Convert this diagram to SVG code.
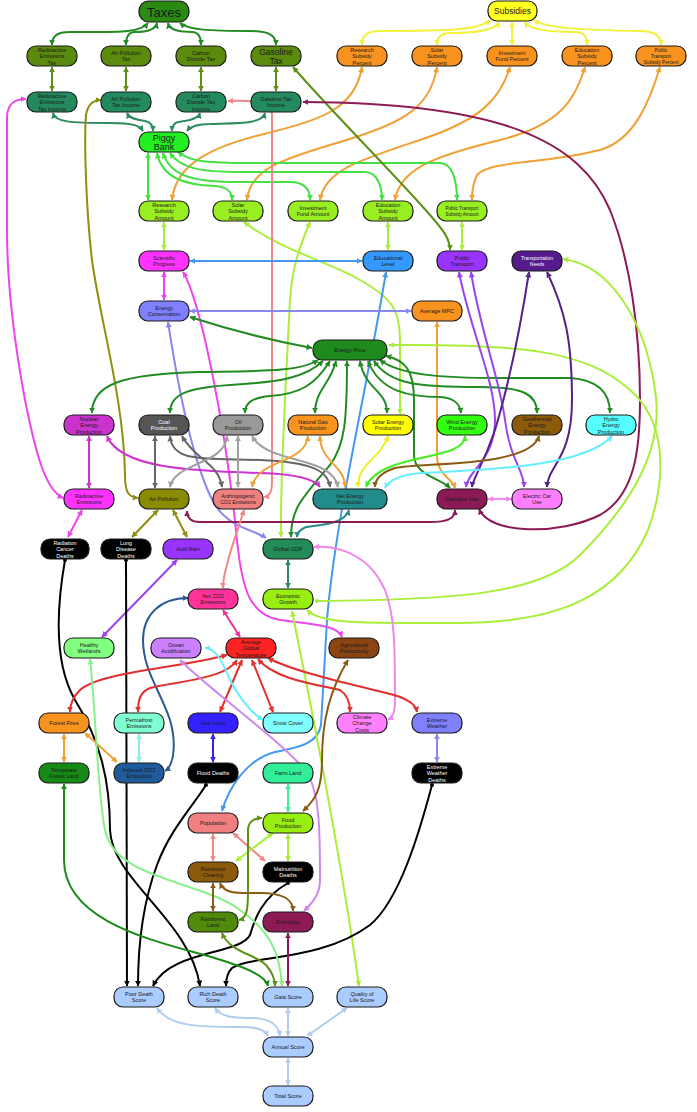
<svg xmlns="http://www.w3.org/2000/svg" width="697" height="1112" viewBox="0 0 697 1112">
<style>
.n rect{stroke:#1a1a1a;stroke-width:1.2}
.n text{font-family:"Liberation Sans",Arial,sans-serif;font-size:5.5px;text-anchor:middle;fill:#1a1a1a}
.n text.w{fill:#fff}
#edges path{fill:none;stroke-width:2}
.dg{stroke:#228B22;marker-start:url(#m-dg);marker-end:url(#m-dg)}
.ol{stroke:#5E8F16;marker-start:url(#m-ol);marker-end:url(#m-ol)}
.sg{stroke:#2E8B60;marker-start:url(#m-sg);marker-end:url(#m-sg)}
.yl{stroke:#F2F23A;marker-start:url(#m-yl);marker-end:url(#m-yl)}
.or{stroke:#F0A035;marker-start:url(#m-or);marker-end:url(#m-or)}
.bg{stroke:#44E044;marker-start:url(#m-bg);marker-end:url(#m-bg)}
.ch{stroke:#A8EE3A;marker-start:url(#m-ch);marker-end:url(#m-ch)}
.mg{stroke:#EE44EE;marker-start:url(#m-mg);marker-end:url(#m-mg)}
.mg2{stroke:#CC33CC;marker-start:url(#m-mg2);marker-end:url(#m-mg2)}
.bl{stroke:#4499EE;marker-start:url(#m-bl);marker-end:url(#m-bl)}
.pw{stroke:#8888EE;marker-start:url(#m-pw);marker-end:url(#m-pw)}
.pu{stroke:#9944EE;marker-start:url(#m-pu);marker-end:url(#m-pu)}
.dp{stroke:#552288;marker-start:url(#m-dp);marker-end:url(#m-dp)}
.mr{stroke:#8B1A55;marker-start:url(#m-mr);marker-end:url(#m-mr)}
.sa{stroke:#F08888;marker-start:url(#m-sa);marker-end:url(#m-sa)}
.g1{stroke:#666666;marker-start:url(#m-g1);marker-end:url(#m-g1)}
.g2{stroke:#A0A0A0;marker-start:url(#m-g2);marker-end:url(#m-g2)}
.br{stroke:#8B5A14;marker-start:url(#m-br);marker-end:url(#m-br)}
.cy{stroke:#66EEFF;marker-start:url(#m-cy);marker-end:url(#m-cy)}
.vi{stroke:#EE88EE;marker-start:url(#m-vi);marker-end:url(#m-vi)}
.ay{stroke:#8E8E10;marker-start:url(#m-ay);marker-end:url(#m-ay)}
.tl{stroke:#2A8A8A;marker-start:url(#m-tl);marker-end:url(#m-tl)}
.bk{stroke:#000;marker-start:url(#d-bk);marker-end:url(#m-bk)}
.pk{stroke:#EE3399;marker-start:url(#m-pk);marker-end:url(#m-pk)}
.rd{stroke:#E03030;marker-start:url(#m-rd);marker-end:url(#m-rd)}
.lv{stroke:#CC88EE;marker-start:url(#m-lv);marker-end:url(#m-lv)}
.db{stroke:#2A5A90;marker-start:url(#m-db);marker-end:url(#m-db)}
.aq{stroke:#88EEDD;marker-start:url(#m-aq);marker-end:url(#m-aq)}
.sb{stroke:#3322EE;marker-start:url(#m-sb);marker-end:url(#m-sb)}
.fl{stroke:#44EE99;marker-start:url(#m-fl);marker-end:url(#m-fl)}
.lg{stroke:#88F088;marker-start:url(#m-lg);marker-end:url(#m-lg)}
.fg{stroke:#1A8A1A;marker-start:url(#m-fg);marker-end:url(#m-fg)}
.lb{stroke:#B0CCEE;marker-start:url(#m-lb);marker-end:url(#m-lb)}
.wg{stroke:#44EE22;marker-start:url(#m-wg);marker-end:url(#m-wg)}
.yl2{stroke:#EEEE22;marker-start:url(#m-yl2);marker-end:url(#m-yl2)}
.chd{stroke:#A8EE3A;marker-start:url(#d-ch);marker-end:url(#m-ch)}
</style>
<defs>
<marker id="m-dg" viewBox="0 0 10 10" refX="9" refY="5" markerWidth="6" markerHeight="6" markerUnits="userSpaceOnUse" orient="auto-start-reverse"><path d="M0,0L10,5L0,10z" fill="#228B22"/></marker>
<marker id="m-ol" viewBox="0 0 10 10" refX="9" refY="5" markerWidth="6" markerHeight="6" markerUnits="userSpaceOnUse" orient="auto-start-reverse"><path d="M0,0L10,5L0,10z" fill="#5E8F16"/></marker>
<marker id="m-sg" viewBox="0 0 10 10" refX="9" refY="5" markerWidth="6" markerHeight="6" markerUnits="userSpaceOnUse" orient="auto-start-reverse"><path d="M0,0L10,5L0,10z" fill="#2E8B60"/></marker>
<marker id="m-yl" viewBox="0 0 10 10" refX="9" refY="5" markerWidth="6" markerHeight="6" markerUnits="userSpaceOnUse" orient="auto-start-reverse"><path d="M0,0L10,5L0,10z" fill="#F2F23A"/></marker>
<marker id="m-or" viewBox="0 0 10 10" refX="9" refY="5" markerWidth="6" markerHeight="6" markerUnits="userSpaceOnUse" orient="auto-start-reverse"><path d="M0,0L10,5L0,10z" fill="#F0A035"/></marker>
<marker id="m-bg" viewBox="0 0 10 10" refX="9" refY="5" markerWidth="6" markerHeight="6" markerUnits="userSpaceOnUse" orient="auto-start-reverse"><path d="M0,0L10,5L0,10z" fill="#44E044"/></marker>
<marker id="m-ch" viewBox="0 0 10 10" refX="9" refY="5" markerWidth="6" markerHeight="6" markerUnits="userSpaceOnUse" orient="auto-start-reverse"><path d="M0,0L10,5L0,10z" fill="#A8EE3A"/></marker>
<marker id="m-mg" viewBox="0 0 10 10" refX="9" refY="5" markerWidth="6" markerHeight="6" markerUnits="userSpaceOnUse" orient="auto-start-reverse"><path d="M0,0L10,5L0,10z" fill="#EE44EE"/></marker>
<marker id="m-mg2" viewBox="0 0 10 10" refX="9" refY="5" markerWidth="6" markerHeight="6" markerUnits="userSpaceOnUse" orient="auto-start-reverse"><path d="M0,0L10,5L0,10z" fill="#CC33CC"/></marker>
<marker id="m-bl" viewBox="0 0 10 10" refX="9" refY="5" markerWidth="6" markerHeight="6" markerUnits="userSpaceOnUse" orient="auto-start-reverse"><path d="M0,0L10,5L0,10z" fill="#4499EE"/></marker>
<marker id="m-pw" viewBox="0 0 10 10" refX="9" refY="5" markerWidth="6" markerHeight="6" markerUnits="userSpaceOnUse" orient="auto-start-reverse"><path d="M0,0L10,5L0,10z" fill="#8888EE"/></marker>
<marker id="m-pu" viewBox="0 0 10 10" refX="9" refY="5" markerWidth="6" markerHeight="6" markerUnits="userSpaceOnUse" orient="auto-start-reverse"><path d="M0,0L10,5L0,10z" fill="#9944EE"/></marker>
<marker id="m-dp" viewBox="0 0 10 10" refX="9" refY="5" markerWidth="6" markerHeight="6" markerUnits="userSpaceOnUse" orient="auto-start-reverse"><path d="M0,0L10,5L0,10z" fill="#552288"/></marker>
<marker id="m-mr" viewBox="0 0 10 10" refX="9" refY="5" markerWidth="6" markerHeight="6" markerUnits="userSpaceOnUse" orient="auto-start-reverse"><path d="M0,0L10,5L0,10z" fill="#8B1A55"/></marker>
<marker id="m-sa" viewBox="0 0 10 10" refX="9" refY="5" markerWidth="6" markerHeight="6" markerUnits="userSpaceOnUse" orient="auto-start-reverse"><path d="M0,0L10,5L0,10z" fill="#F08888"/></marker>
<marker id="m-g1" viewBox="0 0 10 10" refX="9" refY="5" markerWidth="6" markerHeight="6" markerUnits="userSpaceOnUse" orient="auto-start-reverse"><path d="M0,0L10,5L0,10z" fill="#666666"/></marker>
<marker id="m-g2" viewBox="0 0 10 10" refX="9" refY="5" markerWidth="6" markerHeight="6" markerUnits="userSpaceOnUse" orient="auto-start-reverse"><path d="M0,0L10,5L0,10z" fill="#A0A0A0"/></marker>
<marker id="m-br" viewBox="0 0 10 10" refX="9" refY="5" markerWidth="6" markerHeight="6" markerUnits="userSpaceOnUse" orient="auto-start-reverse"><path d="M0,0L10,5L0,10z" fill="#8B5A14"/></marker>
<marker id="m-cy" viewBox="0 0 10 10" refX="9" refY="5" markerWidth="6" markerHeight="6" markerUnits="userSpaceOnUse" orient="auto-start-reverse"><path d="M0,0L10,5L0,10z" fill="#66EEFF"/></marker>
<marker id="m-vi" viewBox="0 0 10 10" refX="9" refY="5" markerWidth="6" markerHeight="6" markerUnits="userSpaceOnUse" orient="auto-start-reverse"><path d="M0,0L10,5L0,10z" fill="#EE88EE"/></marker>
<marker id="m-ay" viewBox="0 0 10 10" refX="9" refY="5" markerWidth="6" markerHeight="6" markerUnits="userSpaceOnUse" orient="auto-start-reverse"><path d="M0,0L10,5L0,10z" fill="#8E8E10"/></marker>
<marker id="m-tl" viewBox="0 0 10 10" refX="9" refY="5" markerWidth="6" markerHeight="6" markerUnits="userSpaceOnUse" orient="auto-start-reverse"><path d="M0,0L10,5L0,10z" fill="#2A8A8A"/></marker>
<marker id="m-bk" viewBox="0 0 10 10" refX="9" refY="5" markerWidth="6" markerHeight="6" markerUnits="userSpaceOnUse" orient="auto-start-reverse"><path d="M0,0L10,5L0,10z" fill="#000"/></marker>
<marker id="d-bk" viewBox="0 0 10 10" refX="5" refY="5" markerWidth="4" markerHeight="4" markerUnits="userSpaceOnUse"><circle cx="5" cy="5" r="5" fill="#000"/></marker>
<marker id="d-ch" viewBox="0 0 10 10" refX="5" refY="5" markerWidth="4" markerHeight="4" markerUnits="userSpaceOnUse"><circle cx="5" cy="5" r="5" fill="#A8EE3A"/></marker>
<marker id="m-pk" viewBox="0 0 10 10" refX="9" refY="5" markerWidth="6" markerHeight="6" markerUnits="userSpaceOnUse" orient="auto-start-reverse"><path d="M0,0L10,5L0,10z" fill="#EE3399"/></marker>
<marker id="m-rd" viewBox="0 0 10 10" refX="9" refY="5" markerWidth="6" markerHeight="6" markerUnits="userSpaceOnUse" orient="auto-start-reverse"><path d="M0,0L10,5L0,10z" fill="#E03030"/></marker>
<marker id="m-lv" viewBox="0 0 10 10" refX="9" refY="5" markerWidth="6" markerHeight="6" markerUnits="userSpaceOnUse" orient="auto-start-reverse"><path d="M0,0L10,5L0,10z" fill="#CC88EE"/></marker>
<marker id="m-db" viewBox="0 0 10 10" refX="9" refY="5" markerWidth="6" markerHeight="6" markerUnits="userSpaceOnUse" orient="auto-start-reverse"><path d="M0,0L10,5L0,10z" fill="#2A5A90"/></marker>
<marker id="m-aq" viewBox="0 0 10 10" refX="9" refY="5" markerWidth="6" markerHeight="6" markerUnits="userSpaceOnUse" orient="auto-start-reverse"><path d="M0,0L10,5L0,10z" fill="#88EEDD"/></marker>
<marker id="m-sb" viewBox="0 0 10 10" refX="9" refY="5" markerWidth="6" markerHeight="6" markerUnits="userSpaceOnUse" orient="auto-start-reverse"><path d="M0,0L10,5L0,10z" fill="#3322EE"/></marker>
<marker id="m-fl" viewBox="0 0 10 10" refX="9" refY="5" markerWidth="6" markerHeight="6" markerUnits="userSpaceOnUse" orient="auto-start-reverse"><path d="M0,0L10,5L0,10z" fill="#44EE99"/></marker>
<marker id="m-lg" viewBox="0 0 10 10" refX="9" refY="5" markerWidth="6" markerHeight="6" markerUnits="userSpaceOnUse" orient="auto-start-reverse"><path d="M0,0L10,5L0,10z" fill="#88F088"/></marker>
<marker id="m-fg" viewBox="0 0 10 10" refX="9" refY="5" markerWidth="6" markerHeight="6" markerUnits="userSpaceOnUse" orient="auto-start-reverse"><path d="M0,0L10,5L0,10z" fill="#1A8A1A"/></marker>
<marker id="m-lb" viewBox="0 0 10 10" refX="9" refY="5" markerWidth="6" markerHeight="6" markerUnits="userSpaceOnUse" orient="auto-start-reverse"><path d="M0,0L10,5L0,10z" fill="#B0CCEE"/></marker>
<marker id="m-wg" viewBox="0 0 10 10" refX="9" refY="5" markerWidth="6" markerHeight="6" markerUnits="userSpaceOnUse" orient="auto-start-reverse"><path d="M0,0L10,5L0,10z" fill="#44EE22"/></marker>
<marker id="m-yl2" viewBox="0 0 10 10" refX="9" refY="5" markerWidth="6" markerHeight="6" markerUnits="userSpaceOnUse" orient="auto-start-reverse"><path d="M0,0L10,5L0,10z" fill="#EEEE22"/></marker>
</defs>
<rect width="697" height="1112" fill="#fff"/>
<g id="edges">
<path class="dg" d="M148,23 C140,33 120,32 70,32 C57,32 52,36 52,45"/>
<path class="dg" d="M157,23 C155,32 140,32 135,32 C128,32 126,37 126,45"/>
<path class="dg" d="M168,23 C170,32 185,32 192,32 C199,32 201,37 201,45"/>
<path class="dg" d="M180,23 C188,30 210,31 250,31 C270,31 276,36 276,45"/>
<path class="yl" d="M490,20 C480,30 450,31 380,31 C366,31 362,36 362,45"/>
<path class="yl" d="M499,22 C495,31 470,33 450,33 C440,33 437,38 437,45"/>
<path class="yl" d="M512,22 L512,45"/>
<path class="yl" d="M525,22 C530,31 560,32 575,32 C585,32 587,37 587,45"/>
<path class="yl" d="M534,20 C545,28 580,30 640,31 C655,31 661,36 661,45"/>
<path class="ol" d="M52,67 L52,91"/>
<path class="ol" d="M126,67 L126,91"/>
<path class="ol" d="M201,67 L201,91"/>
<path class="ol" d="M276,67 L276,91"/>
<path class="sg" d="M53,113 C55,122 70,123 110,123 C135,123 140,126 143,131"/>
<path class="sg" d="M127,113 C130,120 140,120 145,121 C150,122 153,125 153,131"/>
<path class="sg" d="M200,113 C198,120 185,121 178,122 C174,123 172,126 172,131"/>
<path class="sg" d="M265,113 C262,124 240,123 210,124 C195,124 190,127 187,131"/>
<path class="or" d="M362,67 C355,110 320,120 260,135 C200,150 175,170 172,200"/>
<path class="or" d="M437,67 C430,110 400,125 330,145 C280,160 250,170 247,200"/>
<path class="or" d="M510,67 C500,100 480,120 420,140 C360,160 325,170 320,200"/>
<path class="or" d="M585,67 C575,100 560,125 500,140 C430,157 400,170 395,200"/>
<path class="or" d="M660,67 C650,100 635,140 600,150 C540,165 490,160 477,175 C472,185 472,195 472,200"/>
<path class="bg" d="M148,153 L148,200"/>
<path class="bg" d="M157,153 C162,178 185,185 215,186 C228,187 232,192 232,200"/>
<path class="bg" d="M163,153 C170,175 190,181 230,182 L290,182 C305,182 310,190 310,200"/>
<path class="bg" d="M170,153 C180,168 200,172 240,172 L365,172 C378,172 382,188 382,200"/>
<path class="bg" d="M178,152 C190,162 210,163 250,163 L440,163 C452,163 457,180 457,200"/>
<path class="ch" d="M164,222 L164,250"/>
<path class="ch" d="M388,222 L388,250"/>
<path class="ch" d="M462,222 L462,250"/>
<path class="ch" d="M310,222 C298,250 292,270 290,300 C285,400 280,480 281,537"/>
<path class="ch" d="M244,222 C280,250 330,262 360,280 C392,298 400,310 400,340 L400,414"/>
<path class="ol" d="M293,67 C330,110 400,180 430,215 C445,232 450,240 450,250"/>
<path class="mr" d="M479,509 C490,535 560,535 600,515 C635,495 640,450 640,400 C640,330 630,260 610,210 C580,140 500,103 303,102"/>
<path class="sa" d="M264,497 C271,496 272,490 272,480 L272,115 C272,104 265,100 228,101"/>
<path class="mg" d="M63,498 C45,490 35,450 25,400 C12,330 7,280 7,230 L7,118 C7,104 14,99 26,99"/>
<path class="ay" d="M138,498 C128,497 125,492 125,475 C124,400 100,320 92,260 C86,210 84,140 86,115 C88,103 94,100 101,100"/>
<path class="mg" d="M164,272 L164,300"/>
<path class="bl" d="M362,261 L190,261"/>
<path class="bl" d="M386,272 C365,400 335,520 327,620 L321,725 C318,745 295,748 275,752 C245,760 228,790 222,811"/>
<path class="mg" d="M183,272 C200,300 225,420 237,540 C242,590 250,615 280,620 C320,625 338,626 342,637"/>
<path class="pw" d="M190,311 L411,311"/>
<path class="pw" d="M168,322 C180,400 195,470 215,505 C230,528 255,530 266,538"/>
<path class="dg" d="M190,317 C230,330 280,342 312,348"/>
<path class="or" d="M437,322 L437,455 C437,475 452,478 455,488"/>
<path class="dg" d="M318,360 C300,372 260,371 200,372 C120,374 92,385 92,413"/>
<path class="dg" d="M323,361 C305,378 280,382 230,385 C185,388 170,395 170,413"/>
<path class="dg" d="M330,361 C315,385 300,394 270,396 C250,398 245,404 245,413"/>
<path class="dg" d="M336,361 C330,385 315,390 315,413"/>
<path class="dg" d="M347,361 C347,420 345,445 330,465 C300,500 291,510 291,537"/>
<path class="dg" d="M360,361 C365,390 387,390 387,413"/>
<path class="dg" d="M368,361 C380,392 410,397 440,397 C455,398 460,404 461,413"/>
<path class="dg" d="M374,361 C390,385 420,387 480,387 C525,387 537,395 537,413"/>
<path class="dg" d="M380,360 C400,375 440,378 500,378 L570,378 C600,380 610,395 610,413"/>
<path class="dg" d="M386,356 C405,360 414,370 414,400 L414,455 C414,475 440,478 450,488"/>
<path class="ch" d="M307,610 C320,624 360,623 457,623 C560,623 620,595 648,530 C668,475 665,420 630,390 C585,350 520,344 389,345"/>
<path class="chd" d="M317,601 C450,600 540,595 580,555 C630,505 665,450 655,390 C645,320 610,265 563,259"/>
<path class="pu" d="M459,272 C470,330 495,380 495,420 C495,460 468,470 466,487"/>
<path class="pu" d="M471,272 C480,330 500,380 505,420 C510,460 524,470 524,487"/>
<path class="dp" d="M529,272 C520,330 510,380 495,430 C482,468 473,478 472,487"/>
<path class="dp" d="M547,272 C565,310 572,340 572,400 C572,460 548,465 547,487"/>
<path class="vi" d="M488,499 L511,499"/>
<path class="mg2" d="M89,436 L89,488"/>
<path class="mg2" d="M107,436 C120,468 190,471 260,473 C300,474 315,480 320,487"/>
<path class="g1" d="M155,436 L155,488"/>
<path class="g1" d="M170,436 C172,462 200,458 260,460 C310,462 328,470 330,487"/>
<path class="g1" d="M182,436 C195,460 218,462 222,487"/>
<path class="g2" d="M227,436 C225,465 175,462 170,487"/>
<path class="g2" d="M238,436 L238,487"/>
<path class="g2" d="M252,436 C268,465 332,455 338,487"/>
<path class="or" d="M308,436 C305,465 258,458 252,487"/>
<path class="or" d="M320,436 C320,462 345,465 345,487"/>
<path class="yl2" d="M388,436 C380,460 358,462 358,487"/>
<path class="wg" d="M465,436 C465,462 380,452 366,487"/>
<path class="br" d="M539,436 C530,468 420,462 395,468 C380,473 375,480 375,487"/>
<path class="cy" d="M612,436 C580,472 450,470 412,474 C395,477 388,482 385,488"/>
<path class="tl" d="M349,510 C345,524 320,525 306,527 C299,530 297,533 297,537"/>
<path class="mr" d="M455,510 C455,519 447,522 430,522 L200,522 C191,522 187,518 187,511"/>
<path class="vi" d="M388,720 C393,717 395,712 395,700 C395,650 395,615 385,590 C372,560 345,545 314,547"/>
<path class="sa" d="M244,510 C238,530 230,550 227,565 C224,575 223,582 223,588"/>
<path class="sg" d="M288,560 L288,588"/>
<path class="ch" d="M292,611 C310,700 340,850 359,986"/>
<path class="ay" d="M158,510 L132,537"/>
<path class="ay" d="M173,510 L187,537"/>
<path class="mg" d="M82,510 L68,537"/>
<path class="pu" d="M177,560 L102,637"/>
<path class="bk" d="M65,560 C58,600 52,660 75,700 C100,740 110,780 110,830 C112,880 190,920 200,986"/>
<path class="bk" d="M126,560 L127,986"/>
<path class="bk" d="M206,785 C190,810 170,830 157,865 C142,905 138,950 138,986"/>
<path class="bk" d="M288,883 C262,898 255,918 250,935 C240,955 170,950 153,986"/>
<path class="bk" d="M432,785 C420,830 400,900 370,925 C320,962 250,955 232,968 C227,973 226,980 226,986"/>
<path class="pk" d="M223,610 L240,637"/>
<path class="db" d="M165,771 C175,765 176,740 170,720 C160,690 143,670 143,640 C143,615 160,598 188,598"/>
<path class="rd" d="M227,655 C180,668 100,672 80,690 C72,698 70,705 70,712"/>
<path class="rd" d="M237,660 C225,680 170,682 150,688 C140,692 138,700 138,712"/>
<path class="rd" d="M242,660 L220,712"/>
<path class="rd" d="M252,660 L273,712"/>
<path class="rd" d="M258,659 C275,680 320,685 340,690 C348,695 350,703 350,712"/>
<path class="rd" d="M268,658 C300,675 380,690 400,697 C412,702 416,706 417,712"/>
<path class="cy" d="M263,720 C250,712 238,695 230,680 C222,660 215,648 205,648"/>
<path class="lv" d="M180,660 C210,690 280,740 305,770 C320,790 320,830 320,880 C320,895 312,903 304,911"/>
<path class="br" d="M348,660 C330,690 322,720 322,760 C322,790 315,800 303,811"/>
<path class="fl" d="M288,784 L288,812"/>
<path class="pw" d="M437,734 L437,762"/>
<path class="sb" d="M213,734 L213,762"/>
<path class="or" d="M64,734 L64,762"/>
<path class="or" d="M85,733 L117,762"/>
<path class="aq" d="M139,734 L139,762"/>
<path class="fg" d="M64,784 L64,860 C64,930 180,945 230,963 C255,971 266,978 268,986"/>
<path class="lg" d="M90,659 C95,700 98,800 105,830 C115,880 200,880 240,910 C268,930 280,950 282,986"/>
<path class="ol" d="M222,933 C230,953 258,955 266,965 C272,972 275,978 275,986"/>
<path class="mr" d="M288,933 L288,986"/>
<path class="sa" d="M213,834 L213,861"/>
<path class="sa" d="M233,833 L265,861"/>
<path class="ch" d="M273,833 L236,861"/>
<path class="ch" d="M288,834 L288,861"/>
<path class="ol" d="M239,920 C247,918 248,910 248,890 L248,830 C248,822 254,818 262,818"/>
<path class="br" d="M213,883 L213,911"/>
<path class="br" d="M220,883 C225,895 240,893 260,893 C285,893 293,900 293,911"/>
<path class="lb" d="M157,1008 C170,1027 200,1027 240,1027 C258,1027 265,1030 268,1036"/>
<path class="lb" d="M215,1008 C222,1018 235,1018 255,1018 C272,1019 279,1027 280,1036"/>
<path class="lb" d="M288,1008 L288,1036"/>
<path class="lb" d="M347,1008 L307,1036"/>
<path class="lb" d="M288,1058 L288,1085"/>
</g>
<g id="nodes">
<g id="taxes" class="n"><rect x="139" y="1" width="50" height="21" rx="10" fill="#2A8A12"/><text x="164" y="16.5" style="font-size:13px">Taxes</text></g>
<g id="subsidies" class="n"><rect x="488" y="1" width="49" height="20" rx="9" fill="#FFFF22"/><text x="512.5" y="14" style="font-size:8.5px">Subsidies</text></g>
<g id="radtax" class="n"><rect x="27" y="46" width="50" height="20" rx="9" fill="#5A8A0E"/><text><tspan x="52" y="51.5">Radioactive</tspan><tspan x="52" y="58">Emissions</tspan><tspan x="52" y="64.5">Tax</tspan></text></g>
<g id="airtax" class="n"><rect x="101" y="46" width="50" height="20" rx="9" fill="#5A8A0E"/><text><tspan x="126" y="54.8">Air Pollution</tspan><tspan x="126" y="61.3">Tax</tspan></text></g>
<g id="co2tax" class="n"><rect x="176" y="46" width="50" height="20" rx="9" fill="#5A8A0E"/><text><tspan x="201" y="54.8">Carbon</tspan><tspan x="201" y="61.3">Dioxide Tax</tspan></text></g>
<g id="gastax" class="n"><rect x="251" y="46" width="50" height="20" rx="9" fill="#5A8A0E"/><text style="font-size:8.5px"><tspan x="276" y="54.5">Gasoline</tspan><tspan x="276" y="63.5">Tax</tspan></text></g>
<g id="ressubpct" class="n"><rect x="337" y="46" width="50" height="20" rx="9" fill="#F7931E"/><text><tspan x="362" y="51.5">Research</tspan><tspan x="362" y="58">Subsidy</tspan><tspan x="362" y="64.5">Percent</tspan></text></g>
<g id="solsubpct" class="n"><rect x="412" y="46" width="50" height="20" rx="9" fill="#F7931E"/><text><tspan x="437" y="51.5">Solar</tspan><tspan x="437" y="58">Subsidy</tspan><tspan x="437" y="64.5">Percent</tspan></text></g>
<g id="invfundpct" class="n"><rect x="487" y="46" width="50" height="20" rx="9" fill="#F7931E"/><text><tspan x="512" y="54.8">Investment</tspan><tspan x="512" y="61.3">Fund Percent</tspan></text></g>
<g id="edusubpct" class="n"><rect x="562" y="46" width="50" height="20" rx="9" fill="#F7931E"/><text><tspan x="587" y="51.5">Education</tspan><tspan x="587" y="58">Subsidy</tspan><tspan x="587" y="64.5">Percent</tspan></text></g>
<g id="ptsubpct" class="n"><rect x="636" y="46" width="50" height="20" rx="9" fill="#F7931E"/><text style="font-size:4.8px"><tspan x="661" y="52">Public</tspan><tspan x="661" y="58">Transport</tspan><tspan x="661" y="64">Subsidy Percent</tspan></text></g>
<g id="radinc" class="n"><rect x="27" y="92" width="50" height="20" rx="9" fill="#238A5E"/><text><tspan x="52" y="97.5">Radioactive</tspan><tspan x="52" y="104">Emissions</tspan><tspan x="52" y="110.5">Tax Income</tspan></text></g>
<g id="airinc" class="n"><rect x="101" y="92" width="50" height="20" rx="9" fill="#238A5E"/><text><tspan x="126" y="100.8">Air Pollution</tspan><tspan x="126" y="107.3">Tax Income</tspan></text></g>
<g id="co2inc" class="n"><rect x="176" y="92" width="50" height="20" rx="9" fill="#238A5E"/><text><tspan x="201" y="97.5">Carbon</tspan><tspan x="201" y="104">Dioxide Tax</tspan><tspan x="201" y="110.5">Income</tspan></text></g>
<g id="gasinc" class="n"><rect x="251" y="92" width="50" height="20" rx="9" fill="#238A5E"/><text><tspan x="276" y="100.8">Gasoline Tax</tspan><tspan x="276" y="107.3">Income</tspan></text></g>
<g id="piggy" class="n"><rect x="139" y="132" width="50" height="20" rx="9" fill="#22EE22"/><text style="font-size:9px"><tspan x="164" y="141">Piggy</tspan><tspan x="164" y="150">Bank</tspan></text></g>
<g id="resamt" class="n"><rect x="139" y="201" width="50" height="20" rx="9" fill="#99EE22"/><text><tspan x="164" y="206.5">Research</tspan><tspan x="164" y="213">Subsidy</tspan><tspan x="164" y="219.5">Amount</tspan></text></g>
<g id="solamt" class="n"><rect x="213" y="201" width="50" height="20" rx="9" fill="#99EE22"/><text><tspan x="238" y="206.5">Solar</tspan><tspan x="238" y="213">Subsidy</tspan><tspan x="238" y="219.5">Amount</tspan></text></g>
<g id="invamt" class="n"><rect x="288" y="201" width="50" height="20" rx="9" fill="#99EE22"/><text><tspan x="313" y="209.8">Investment</tspan><tspan x="313" y="216.3">Fund Amount</tspan></text></g>
<g id="eduamt" class="n"><rect x="363" y="201" width="50" height="20" rx="9" fill="#99EE22"/><text><tspan x="388" y="206.5">Education</tspan><tspan x="388" y="213">Subsidy</tspan><tspan x="388" y="219.5">Amount</tspan></text></g>
<g id="ptamt" class="n"><rect x="437" y="201" width="50" height="20" rx="9" fill="#99EE22"/><text style="font-size:4.6px"><tspan x="462" y="209.8">Public Transport</tspan><tspan x="462" y="215.8">Subsidy Amount</tspan></text></g>
<g id="sci" class="n"><rect x="139" y="251" width="50" height="20" rx="9" fill="#FF33FF"/><text><tspan x="164" y="259.8">Scientific</tspan><tspan x="164" y="266.3">Progress</tspan></text></g>
<g id="edu" class="n"><rect x="363" y="251" width="50" height="20" rx="9" fill="#3399FF"/><text><tspan x="388" y="259.8">Educational</tspan><tspan x="388" y="266.3">Level</tspan></text></g>
<g id="pt" class="n"><rect x="437" y="251" width="50" height="20" rx="9" fill="#9933FF"/><text><tspan x="462" y="259.8">Public</tspan><tspan x="462" y="266.3">Transport</tspan></text></g>
<g id="tneeds" class="n"><rect x="512" y="251" width="50" height="20" rx="9" fill="#551A8B"/><text class="w" style="font-size:5px"><tspan x="537" y="259.8">Transportation</tspan><tspan x="537" y="266.3">Needs</tspan></text></g>
<g id="econs" class="n"><rect x="139" y="301" width="50" height="20" rx="9" fill="#8080FF"/><text><tspan x="164" y="309.8">Energy</tspan><tspan x="164" y="316.3">Conservation</tspan></text></g>
<g id="mpc" class="n"><rect x="412" y="301" width="50" height="20" rx="9" fill="#F7931E"/><text x="437" y="313">Average MPC</text></g>
<g id="eprice" class="n"><rect x="313" y="340" width="74" height="20" rx="9" fill="#1E8A1E"/><text x="350" y="352">Energy Price</text></g>
<g id="nuclear" class="n"><rect x="64" y="415" width="50" height="20" rx="9" fill="#CC33CC"/><text><tspan x="89" y="420.5">Nuclear</tspan><tspan x="89" y="427">Energy</tspan><tspan x="89" y="433.5">Production</tspan></text></g>
<g id="coal" class="n"><rect x="139" y="415" width="50" height="20" rx="9" fill="#555555"/><text class="w"><tspan x="164" y="423.8">Coal</tspan><tspan x="164" y="430.3">Production</tspan></text></g>
<g id="oil" class="n"><rect x="213" y="415" width="50" height="20" rx="9" fill="#999999"/><text><tspan x="238" y="423.8">Oil</tspan><tspan x="238" y="430.3">Production</tspan></text></g>
<g id="natgas" class="n"><rect x="288" y="415" width="50" height="20" rx="9" fill="#F7931E"/><text><tspan x="313" y="423.8">Natural Gas</tspan><tspan x="313" y="430.3">Production</tspan></text></g>
<g id="solar" class="n"><rect x="363" y="415" width="50" height="20" rx="9" fill="#FFFF00"/><text><tspan x="388" y="423.8">Solar Energy</tspan><tspan x="388" y="430.3">Production</tspan></text></g>
<g id="wind" class="n"><rect x="437" y="415" width="50" height="20" rx="9" fill="#33FF11"/><text><tspan x="462" y="423.8">Wind Energy</tspan><tspan x="462" y="430.3">Production</tspan></text></g>
<g id="geo" class="n"><rect x="512" y="415" width="50" height="20" rx="9" fill="#8B5A0B"/><text><tspan x="537" y="420.5">Geothermal</tspan><tspan x="537" y="427">Energy</tspan><tspan x="537" y="433.5">Production</tspan></text></g>
<g id="hydro" class="n"><rect x="586" y="415" width="50" height="20" rx="9" fill="#55FFFF"/><text><tspan x="611" y="420.5">Hydro</tspan><tspan x="611" y="427">Energy</tspan><tspan x="611" y="433.5">Production</tspan></text></g>
<g id="rademis" class="n"><rect x="64" y="489" width="50" height="20" rx="9" fill="#FF33FF"/><text><tspan x="89" y="497.8">Radioactive</tspan><tspan x="89" y="504.3">Emissions</tspan></text></g>
<g id="airpol" class="n"><rect x="139" y="489" width="50" height="20" rx="9" fill="#8B8B00"/><text x="164" y="501">Air Pollution</text></g>
<g id="anthro" class="n"><rect x="213" y="489" width="50" height="20" rx="9" fill="#F08080"/><text style="font-size:5.2px"><tspan x="238" y="497.8">Anthropogenic</tspan><tspan x="238" y="504.3">CO2 Emissions</tspan></text></g>
<g id="neteng" class="n"><rect x="313" y="489" width="74" height="20" rx="9" fill="#228B8B"/><text><tspan x="350" y="497.8">Net Energy</tspan><tspan x="350" y="504.3">Production</tspan></text></g>
<g id="gasuse" class="n"><rect x="437" y="489" width="50" height="20" rx="9" fill="#8B1A55"/><text x="462" y="501">Gasoline Use</text></g>
<g id="ecar" class="n"><rect x="512" y="489" width="50" height="20" rx="9" fill="#FF80FF"/><text><tspan x="537" y="497.8">Electric Car</tspan><tspan x="537" y="504.3">Use</tspan></text></g>
<g id="radcancer" class="n"><rect x="41" y="539" width="48" height="20" rx="9" fill="#000"/><text class="w"><tspan x="65" y="544.5">Radiation</tspan><tspan x="65" y="551">Cancer</tspan><tspan x="65" y="557.5">Deaths</tspan></text></g>
<g id="lung" class="n"><rect x="101" y="539" width="50" height="20" rx="9" fill="#000"/><text class="w"><tspan x="126" y="544.5">Lung</tspan><tspan x="126" y="551">Disease</tspan><tspan x="126" y="557.5">Deaths</tspan></text></g>
<g id="acid" class="n"><rect x="163" y="539" width="50" height="20" rx="9" fill="#9933FF"/><text x="188" y="551">Acid Rain</text></g>
<g id="gdp" class="n"><rect x="263" y="539" width="50" height="20" rx="9" fill="#228B57"/><text x="288" y="551">Global GDP</text></g>
<g id="netco2" class="n"><rect x="188" y="589" width="50" height="20" rx="9" fill="#FF3399"/><text><tspan x="213" y="597.8">Net CO2</tspan><tspan x="213" y="604.3">Emissions</tspan></text></g>
<g id="econ" class="n"><rect x="263" y="589" width="50" height="20" rx="9" fill="#99EE11"/><text><tspan x="288" y="597.8">Economic</tspan><tspan x="288" y="604.3">Growth</tspan></text></g>
<g id="wetlands" class="n"><rect x="64" y="638" width="50" height="20" rx="9" fill="#80FF80"/><text><tspan x="89" y="646.8">Healthy</tspan><tspan x="89" y="653.3">Wetlands</tspan></text></g>
<g id="ocean" class="n"><rect x="151" y="638" width="50" height="20" rx="9" fill="#CC80FF"/><text><tspan x="176" y="646.8">Ocean</tspan><tspan x="176" y="653.3">Acidification</tspan></text></g>
<g id="avgtemp" class="n"><rect x="226" y="638" width="50" height="20" rx="9" fill="#FF2222"/><text><tspan x="251" y="643.5">Average</tspan><tspan x="251" y="650">Global</tspan><tspan x="251" y="656.5">Temperature</tspan></text></g>
<g id="agri" class="n"><rect x="329" y="638" width="50" height="20" rx="9" fill="#8B4513"/><text><tspan x="354" y="646.8">Agricultural</tspan><tspan x="354" y="653.3">Productivity</tspan></text></g>
<g id="fires" class="n"><rect x="39" y="713" width="50" height="20" rx="9" fill="#F7931E"/><text x="64" y="725">Forest Fires</text></g>
<g id="perma" class="n"><rect x="114" y="713" width="50" height="20" rx="9" fill="#80FFD0"/><text><tspan x="139" y="721.8">Permafrost</tspan><tspan x="139" y="728.3">Emissions</tspan></text></g>
<g id="sealevel" class="n"><rect x="188" y="713" width="50" height="20" rx="9" fill="#3322FF"/><text x="213" y="725">Sea Level</text></g>
<g id="snow" class="n"><rect x="263" y="713" width="50" height="20" rx="9" fill="#80FFFF"/><text x="288" y="725">Snow Cover</text></g>
<g id="ccc" class="n"><rect x="337" y="713" width="50" height="20" rx="9" fill="#FF80FF"/><text><tspan x="362" y="718.5">Climate</tspan><tspan x="362" y="725">Change</tspan><tspan x="362" y="731.5">Costs</tspan></text></g>
<g id="extweather" class="n"><rect x="412" y="713" width="50" height="20" rx="9" fill="#8080FF"/><text><tspan x="437" y="721.8">Extreme</tspan><tspan x="437" y="728.3">Weather</tspan></text></g>
<g id="tforest" class="n"><rect x="39" y="763" width="50" height="20" rx="9" fill="#158A15"/><text><tspan x="64" y="771.8">Temperate</tspan><tspan x="64" y="778.3">Forest Land</tspan></text></g>
<g id="induced" class="n"><rect x="114" y="763" width="50" height="20" rx="9" fill="#1F5A9A"/><text><tspan x="139" y="771.8">Induced CO2</tspan><tspan x="139" y="778.3">Emissions</tspan></text></g>
<g id="flood" class="n"><rect x="188" y="763" width="50" height="20" rx="9" fill="#000"/><text class="w" x="213" y="775">Flood Deaths</text></g>
<g id="farm" class="n"><rect x="263" y="763" width="50" height="20" rx="9" fill="#33EE99"/><text x="288" y="775">Farm Land</text></g>
<g id="ewdeaths" class="n"><rect x="412" y="763" width="50" height="20" rx="9" fill="#000"/><text class="w"><tspan x="437" y="768.5">Extreme</tspan><tspan x="437" y="775">Weather</tspan><tspan x="437" y="781.5">Deaths</tspan></text></g>
<g id="pop" class="n"><rect x="188" y="813" width="50" height="20" rx="9" fill="#F08080"/><text x="213" y="825">Population</text></g>
<g id="food" class="n"><rect x="263" y="813" width="50" height="20" rx="9" fill="#99EE11"/><text><tspan x="288" y="821.8">Food</tspan><tspan x="288" y="828.3">Production</tspan></text></g>
<g id="rclear" class="n"><rect x="188" y="862" width="50" height="20" rx="9" fill="#8B5A0B"/><text><tspan x="213" y="870.8">Rainforest</tspan><tspan x="213" y="877.3">Clearing</tspan></text></g>
<g id="maln" class="n"><rect x="263" y="862" width="50" height="20" rx="9" fill="#000"/><text class="w"><tspan x="288" y="870.8">Malnutrition</tspan><tspan x="288" y="877.3">Deaths</tspan></text></g>
<g id="rland" class="n"><rect x="188" y="912" width="50" height="20" rx="9" fill="#4F8A0B"/><text><tspan x="213" y="920.8">Rainforest</tspan><tspan x="213" y="927.3">Land</tspan></text></g>
<g id="extinct" class="n"><rect x="263" y="912" width="50" height="20" rx="9" fill="#8B1A55"/><text x="288" y="924">Extinction</text></g>
<g id="poor" class="n"><rect x="114" y="987" width="50" height="20" rx="9" fill="#AACCFF"/><text><tspan x="139" y="995.8">Poor Death</tspan><tspan x="139" y="1002.3">Score</tspan></text></g>
<g id="rich" class="n"><rect x="188" y="987" width="50" height="20" rx="9" fill="#AACCFF"/><text><tspan x="213" y="995.8">Rich Death</tspan><tspan x="213" y="1002.3">Score</tspan></text></g>
<g id="gaia" class="n"><rect x="263" y="987" width="50" height="20" rx="9" fill="#AACCFF"/><text x="288" y="999">Gaia Score</text></g>
<g id="qol" class="n"><rect x="337" y="987" width="50" height="20" rx="9" fill="#AACCFF"/><text><tspan x="362" y="995.8">Quality of</tspan><tspan x="362" y="1002.3">Life Score</tspan></text></g>
<g id="annual" class="n"><rect x="263" y="1037" width="50" height="20" rx="9" fill="#AACCFF"/><text x="288" y="1049">Annual Score</text></g>
<g id="total" class="n"><rect x="263" y="1086" width="50" height="20" rx="9" fill="#AACCFF"/><text x="288" y="1098">Total Score</text></g>
</g>
</svg>
